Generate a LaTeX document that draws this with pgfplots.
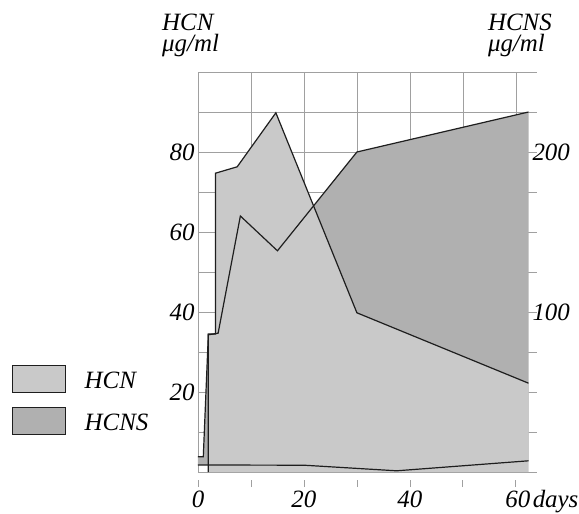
\documentclass[border=0pt]{standalone}
\usepackage{pgfplots}
\pgfplotsset{compat=1.18}
\usepackage{fontspec}
\setmainfont{Liberation Serif}
\definecolor{lightfill}{RGB}{201,201,201}
\definecolor{darkfill}{RGB}{176,176,176}
\definecolor{gridc}{RGB}{160,160,160}
\definecolor{linec}{RGB}{30,30,30}
\newcommand{\lblfont}{\fontsize{25}{27}\selectfont\itshape}
\newcommand{\numfont}{\fontsize{25}{27}\selectfont\itshape}
\newcommand{\ttlfont}{\fontsize{25}{22}\selectfont\itshape}
\begin{document}
\begin{tikzpicture}
\path[use as bounding box] (-198bp,-42bp) rectangle (381bp,472bp);
\begin{axis}[
  scale only axis, width=339bp, height=400bp,
  xmin=0, xmax=64, ymin=0, ymax=100,
  axis line style={draw=none},
  xtick={0,10,...,60},
  xticklabels={0,,20,,40,,{\hspace*{4bp}60\rlap{\kern2.5bp days}}},
  ytick={0,10,...,100},
  yticklabels={,,20,,40,,60,,80,,},
  grid=major, grid style={gridc, line width=0.5bp},
  xtick pos=bottom, ytick pos=left,
  tick align=inside,
  major tick length=7bp,
  xtick style={draw=gridc, line width=0.7bp, yshift=-15bp},
  ytick style={draw=none},
  ticklabel style={font=\numfont},
  xticklabel style={yshift=-15bp},
  legend cell align=left,
  legend image code/.code={\draw[#1] (0bp,-11.5bp) rectangle (53bp,15.5bp);},
  legend style={at={(rel axis cs:-0.5496,0.2675)}, anchor=north west,
    draw=none, fill=none, inner sep=0pt, row sep=13.7bp, column sep=19bp,
    font=\lblfont, nodes={inner sep=0pt}},
  clip=false,
]
\addlegendimage{fill=lightfill, draw=linec, line width=0.8bp}
\addlegendentry{HCN}
\addlegendimage{fill=darkfill, draw=linec, line width=0.8bp}
\addlegendentry{HCNS}
% HCNS area (between bottom line and HCNS line)
\addplot[fill=darkfill, draw=none, forget plot] coordinates {
  (0,3.8) (1,3.8) (1.95,34.3) (3.8,34.7) (8,64) (15,55.3) (30,80) (62.4,90)
  (62.4,2.8) (37.5,0.3) (20,1.7) (0,1.75)} -- cycle;
% HCN area
\addplot[fill=lightfill, draw=none, forget plot] coordinates {
  (1.95,0) (1.95,34.5) (3.3,34.5) (3.3,74.7) (7.4,76.3) (14.7,89.8) (30,39.8) (62.4,22.2) (62.4,0)} -- cycle;
% bottom line
\addplot[linec, line width=1.2bp, forget plot] coordinates {
  (0,1.75) (20,1.7) (37.5,0.3) (62.4,2.8)};
% HCNS line
\addplot[linec, line width=1.2bp, forget plot] coordinates {
  (0,3.8) (1,3.8) (1.95,34.3) (3.8,34.7) (8,64) (15,55.3) (30,80) (62.4,90)};
% HCN line
\addplot[linec, line width=1.2bp, forget plot] coordinates {
  (1.95,0) (1.95,34.5) (3.3,34.5) (3.3,74.7) (7.4,76.3) (14.7,89.8) (30,39.8) (62.4,22.2)};
\node[anchor=base west, font=\ttlfont, align=left, inner sep=0pt] at ([xshift=-36bp,yshift=20bp]rel axis cs:0,1) {HCN\\μg/ml};
\node[anchor=base east, font=\ttlfont, align=right, inner sep=0pt] at ([xshift=15bp,yshift=20bp]rel axis cs:1,1) {HCNS\\μg/ml\kern7bp};
\end{axis}
\begin{axis}[
  scale only axis, width=339bp, height=400bp,
  xmin=0, xmax=64, ymin=0, ymax=250,
  hide x axis,
  axis y line*=right,
  axis line style={draw=none},
  ytick={100,200},
  yticklabels={100,200},
  ytick style={draw=none},
  yticklabel style={font=\numfont, xshift=-8bp},
]
\end{axis}
\end{tikzpicture}
\end{document}
